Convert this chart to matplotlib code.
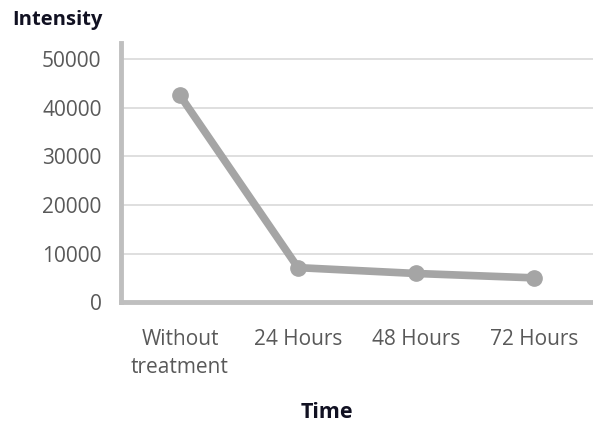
import matplotlib
matplotlib.use("Agg")
import matplotlib.pyplot as plt

categories = ["Without\ntreatment", "24 Hours", "48 Hours", "72 Hours"]
intensity = [42500, 7100, 5900, 5000]
yticks = [0, 10000, 20000, 30000, 40000, 50000]

plt.rcParams['font.family'] = ['Open Sans', 'DejaVu Sans']

fig = plt.figure(figsize=(5.93, 4.25), dpi=100)
ax = fig.add_axes([0.204, 0.289, 0.796, 0.610])

x = list(range(len(categories)))
ax.plot(x, intensity, color="#a5a5a5", lw=5.5, marker="o", ms=11,
        solid_capstyle="round", zorder=3, clip_on=False)

ax.set_xlim(-0.5, 3.5)
ax.set_ylim(0, 53300)
ax.set_yticks(yticks)
ax.set_yticklabels([str(v) for v in yticks])
ax.set_xticks(x)
ax.set_xticklabels(categories, linespacing=1.45)
ax.tick_params(axis="both", length=0, labelsize=15, colors="#595959")
ax.tick_params(axis="y", pad=14)
ax.tick_params(axis="x", pad=19.5)
for lab in ax.get_xticklabels():
    lab.set_verticalalignment("top")

ax.grid(axis="y", color="#d9d9d9", lw=1.2, zorder=0)
ax.set_axisbelow(True)
for s in ["top", "right"]:
    ax.spines[s].set_visible(False)
for s in ["left", "bottom"]:
    ax.spines[s].set_color("#bfbfbf")
    ax.spines[s].set_linewidth(3.5)

fig.text(0.02, 0.953, "Intensity", fontsize=14.5, fontweight="bold",
         color="#111122", ha="left", va="center")
fig.text(0.551, 0.03, "Time", fontsize=15.5, fontweight="bold",
         color="#111122", ha="center", va="center")

fig.savefig("out.png", dpi=100)
